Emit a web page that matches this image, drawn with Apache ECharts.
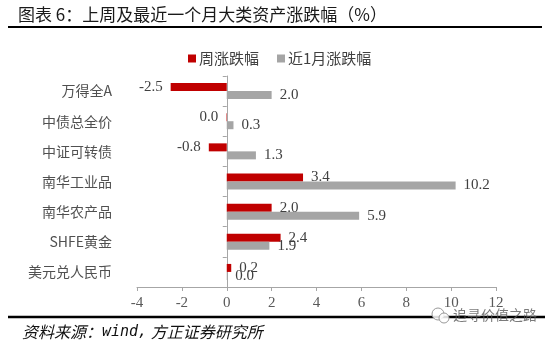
<!DOCTYPE html>
<html>
<head>
<meta charset="utf-8">
<script src="https://cdn.jsdelivr.net/npm/echarts@6/dist/echarts.min.js"></script>
<style>
html,body{margin:0;padding:0;background:#fff;}
#c{width:550px;height:342px;}
</style>
</head>
<body>
<div id="c"></div>
<script>
var categories = ['万得全A', '中债总全价', '中证可转债', '南华工业品', '南华农产品', 'SHFE黄金', '美元兑人民币'];
var weekChange = [-2.5, -0.02, -0.8, 3.4, 2.0, 2.4, 0.2];
var monthChange = [2.0, 0.3, 1.3, 10.2, 5.9, 1.9, 0.02];
var seriesNames = ['周涨跌幅', '近1月涨跌幅'];
var xTicks = {min: -4, max: 12, interval: 2};

var CJK = '"Noto Sans CJK SC", sans-serif';
var SERIF = '"Liberation Serif", "Times New Roman", serif';

function fmt(v) {
  var s = v.toFixed(1);
  if (parseFloat(s) === 0) s = '0.0';
  return s;
}
function toItems(arr) {
  return arr.map(function (v) {
    return { value: v, label: { position: v < 0 ? 'left' : 'right' } };
  });
}
var labelStyle = {
  show: true,
  distance: 8,
  fontFamily: SERIF,
  fontSize: 15,
  color: '#404040',
  formatter: function (p) { return fmt(p.value); }
};

var chart = echarts.init(document.getElementById('c'), null, {renderer: 'canvas'});
chart.setOption({
  animation: false,
  backgroundColor: '#fff',
  legend: {
    left: 183,
    top: 46,
    itemWidth: 8,
    itemHeight: 8,
    itemGap: 18,
    icon: 'rect',
    textStyle: { fontFamily: CJK, fontSize: 15, color: '#404040', padding: [0, 0, 0, -2] },
    data: seriesNames
  },
  grid: { left: 137, right: 54, top: 76, bottom: 55, containLabel: false, outerBoundsMode: 'none' },
  xAxis: {
    type: 'value',
    min: xTicks.min, max: xTicks.max, interval: xTicks.interval,
    splitLine: { show: false },
    axisLine: { show: true, lineStyle: { color: '#A6A6A6', width: 1 } },
    axisTick: { show: true, length: 4, lineStyle: { color: '#A6A6A6' } },
    axisLabel: { fontFamily: SERIF, fontSize: 15, color: '#595959', margin: 9 }
  },
  yAxis: {
    type: 'category',
    inverse: true,
    data: categories,
    axisLine: { show: true, onZero: true, lineStyle: { color: '#A6A6A6', width: 1 } },
    axisTick: { show: true, length: 4, lineStyle: { color: '#A6A6A6' } },
    axisLabel: { fontFamily: CJK, fontSize: 14, color: '#505050', margin: 25 }
  },
  series: [
    {
      name: seriesNames[0], type: 'bar', barWidth: 8, barGap: '0%',
      itemStyle: { color: '#C00000' },
      label: labelStyle,
      data: toItems(weekChange)
    },
    {
      name: seriesNames[1], type: 'bar', barWidth: 8, barGap: '0%',
      itemStyle: { color: '#A5A5A5' },
      label: labelStyle,
      data: toItems(monthChange)
    }
  ],
  graphic: [
    { type: 'text', left: 18, top: 6, style: { text: '图表 6：上周及最近一个月大类资产涨跌幅（%）', font: '17px ' + CJK, fill: '#1a1a1a' } },
    { type: 'line', shape: { x1: 8, y1: 27, x2: 542, y2: 27 }, style: { stroke: '#000', lineWidth: 2 } },
    { type: 'line', shape: { x1: 8, y1: 317, x2: 545, y2: 317 }, style: { stroke: '#000', lineWidth: 2.5 } },
    { type: 'text', left: 22, top: 324, style: {
        text: '{a|资料来源：}{b|wind,}{a| 方正证券研究所}',
        rich: {
          a: { fontFamily: CJK, fontSize: 16, fontStyle: 'italic', fill: '#111' },
          b: { fontFamily: '"DejaVu Sans Mono", monospace', fontSize: 15, fontStyle: 'italic', fill: '#111' }
        }
      } },
    { type: 'circle', shape: { cx: 438, cy: 314, r: 6 }, style: { fill: 'rgba(255,255,255,0.85)', stroke: '#999', lineWidth: 1 } },
    { type: 'circle', shape: { cx: 444, cy: 318, r: 5 }, style: { fill: 'rgba(255,255,255,0.85)', stroke: '#999', lineWidth: 1 } },
    { type: 'text', left: 453, top: 308, style: { text: '追寻价值之路', font: '14px ' + CJK, fill: 'rgba(90,90,90,0.8)' } }
  ]
});
</script>
</body>
</html>
